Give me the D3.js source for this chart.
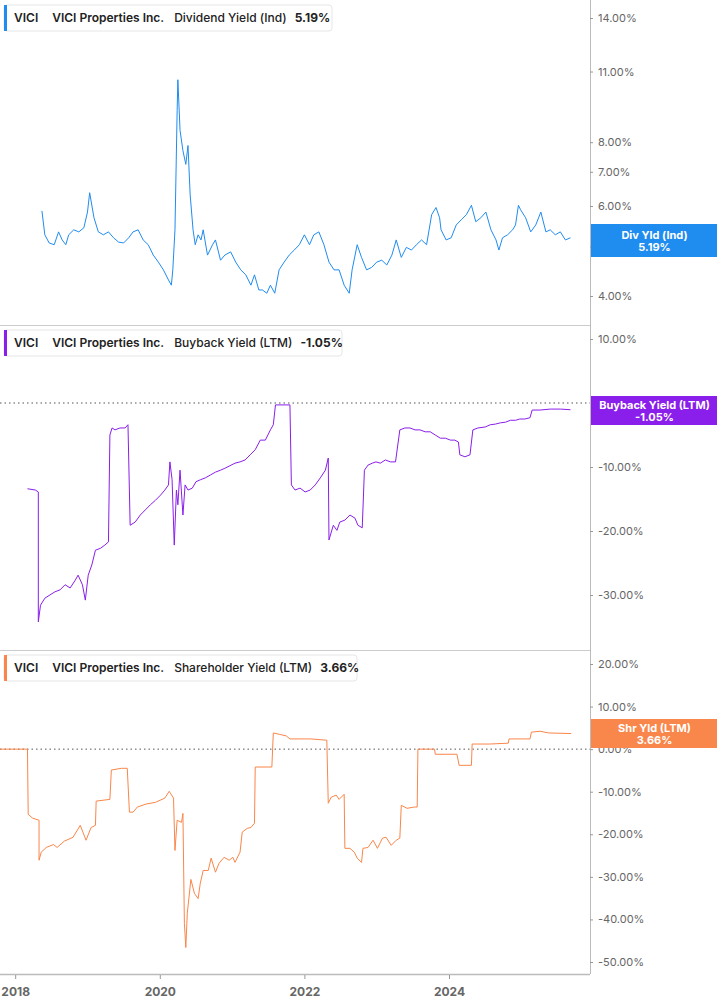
<!DOCTYPE html>
<html><head><meta charset="utf-8">
<script src="https://cdn.jsdelivr.net/npm/d3@7"></script>
<style>body{margin:0;background:#fff;font-family:Inter,"Open Sans",sans-serif}</style>
</head><body><svg id="c" width="717" height="1005"></svg>
<script>
const divDates=[2018.37,2018.41,2018.47,2018.54,2018.60,2018.65,2018.70,2018.74,2018.81,2018.88,2018.95,2019.00,2019.03,2019.09,2019.15,2019.22,2019.29,2019.36,2019.43,2019.50,2019.57,2019.63,2019.70,2019.77,2019.84,2019.91,2019.98,2020.05,2020.12,2020.16,2020.18,2020.21,2020.24,2020.25,2020.28,2020.32,2020.36,2020.39,2020.42,2020.46,2020.49,2020.53,2020.57,2020.60,2020.66,2020.73,2020.77,2020.84,2020.90,2020.98,2021.05,2021.12,2021.19,2021.26,2021.31,2021.37,2021.42,2021.48,2021.53,2021.59,2021.65,2021.72,2021.79,2021.86,2021.93,2022.00,2022.07,2022.13,2022.20,2022.27,2022.34,2022.41,2022.48,2022.55,2022.62,2022.66,2022.73,2022.79,2022.86,2022.93,2023.00,2023.07,2023.14,2023.21,2023.27,2023.34,2023.41,2023.48,2023.55,2023.62,2023.69,2023.76,2023.82,2023.87,2023.89,2023.96,2024.03,2024.10,2024.17,2024.24,2024.31,2024.37,2024.44,2024.51,2024.58,2024.65,2024.69,2024.74,2024.81,2024.88,2024.92,2024.96,2024.99,2025.06,2025.13,2025.20,2025.27,2025.34,2025.40,2025.47,2025.54,2025.61,2025.68];
const divValues=[5.87,5.27,5.08,5.04,5.34,5.15,5.04,5.27,5.39,5.34,5.44,5.84,6.37,5.69,5.34,5.27,5.34,5.20,5.10,5.08,5.20,5.34,5.39,5.15,5.04,4.81,4.66,4.50,4.30,4.20,4.50,5.39,9.22,10.6,8.44,7.70,7.24,7.88,6.31,5.39,5.04,5.27,5.15,5.39,4.81,5.04,5.15,4.70,4.81,4.88,4.66,4.50,4.40,4.20,4.40,4.11,4.11,4.05,4.20,4.05,4.50,4.66,4.81,4.92,5.04,5.27,5.04,5.27,5.34,5.04,4.66,4.50,4.50,4.20,4.05,4.50,5.04,4.76,4.50,4.55,4.66,4.70,4.60,4.81,5.15,4.76,4.98,4.92,5.04,5.15,5.04,5.77,5.96,5.69,5.39,5.15,5.20,5.51,5.64,5.77,6.02,5.59,5.69,5.84,5.39,5.15,4.92,5.20,5.27,5.39,5.51,6.02,5.90,5.69,5.34,5.51,5.84,5.34,5.39,5.27,5.34,5.15,5.20];
const bbDates=[2018.17,2018.28,2018.32,2018.32,2018.35,2018.41,2018.48,2018.55,2018.62,2018.69,2018.76,2018.83,2018.87,2018.93,2018.97,2019.01,2019.06,2019.11,2019.18,2019.24,2019.29,2019.31,2019.34,2019.38,2019.45,2019.52,2019.56,2019.59,2019.66,2019.73,2019.80,2019.87,2019.94,2020.01,2020.07,2020.12,2020.14,2020.17,2020.20,2020.23,2020.25,2020.28,2020.32,2020.35,2020.39,2020.45,2020.50,2020.56,2020.63,2020.70,2020.77,2020.84,2020.90,2020.97,2021.04,2021.11,2021.18,2021.25,2021.32,2021.39,2021.46,2021.53,2021.57,2021.60,2021.80,2021.82,2021.87,2021.94,2022.01,2022.08,2022.15,2022.22,2022.29,2022.33,2022.34,2022.40,2022.45,2022.49,2022.56,2022.63,2022.70,2022.74,2022.80,2022.83,2022.88,2022.94,2022.99,2023.05,2023.12,2023.19,2023.26,2023.32,2023.39,2023.46,2023.53,2023.60,2023.67,2023.74,2023.81,2023.88,2023.95,2024.02,2024.08,2024.13,2024.15,2024.22,2024.29,2024.33,2024.40,2024.50,2024.57,2024.64,2024.71,2024.78,2024.85,2024.92,2024.98,2025.05,2025.12,2025.15,2025.26,2025.40,2025.54,2025.68];
const bbValues=[-13.4,-13.6,-13.9,-34.2,-31.6,-30.5,-30,-29.5,-29.2,-28.4,-28.9,-27.7,-26.9,-28.4,-30.8,-26.9,-25.3,-23,-22.7,-22.2,-21.7,-5,-3.9,-4.2,-3.9,-3.9,-3.4,-19.1,-18.6,-17.5,-16.7,-15.9,-15.2,-14.4,-13.6,-12.8,-9.2,-12,-22.2,-13.6,-15.9,-10.5,-17.5,-12.8,-13.6,-13.3,-12.3,-12,-11.7,-11.25,-10.8,-10.5,-10.2,-9.8,-9.4,-9.2,-8.9,-8.1,-7.3,-5.8,-5.8,-4.2,-3.4,-0.3,-0.3,-12.8,-13.6,-13.3,-13.9,-13.6,-12.8,-11.7,-10.5,-8.6,-21.4,-19.1,-19.9,-18.6,-18.3,-17.5,-18,-19.1,-19.5,-10.5,-9.7,-9.4,-9.2,-9.4,-8.9,-9.2,-9.2,-4.2,-3.9,-3.9,-4.2,-4.2,-4.5,-4.5,-5,-5.5,-5.5,-5.8,-5.8,-6.1,-8.1,-8.4,-8.1,-4.2,-3.9,-3.75,-3.4,-3.3,-3.1,-3,-2.7,-2.7,-2.5,-2.5,-2.3,-1.1,-1.1,-0.95,-0.95,-1.05];
const shDates=[2017.79,2018.17,2018.18,2018.24,2018.33,2018.33,2018.36,2018.43,2018.53,2018.58,2018.68,2018.80,2018.90,2018.98,2019.05,2019.11,2019.12,2019.31,2019.33,2019.47,2019.55,2019.58,2019.63,2019.69,2019.81,2019.94,2020.07,2020.13,2020.19,2020.21,2020.24,2020.30,2020.32,2020.34,2020.36,2020.38,2020.43,2020.48,2020.53,2020.56,2020.60,2020.67,2020.71,2020.77,2020.82,2020.89,2020.96,2021.01,2021.04,2021.11,2021.14,2021.21,2021.26,2021.31,2021.32,2021.55,2021.57,2021.65,2021.75,2021.80,2022.09,2022.31,2022.33,2022.37,2022.44,2022.48,2022.55,2022.56,2022.63,2022.69,2022.73,2022.79,2022.81,2022.88,2022.95,2023.01,2023.08,2023.13,2023.20,2023.27,2023.32,2023.34,2023.42,2023.52,2023.56,2023.57,2023.80,2023.81,2024.11,2024.14,2024.31,2024.32,2024.56,2024.82,2024.83,2025.12,2025.14,2025.26,2025.38,2025.69];
const shValues=[0,0,-15.3,-16.2,-16.7,-26.1,-24.2,-23.1,-22.4,-23.1,-21.6,-20.7,-17.9,-21.4,-18.4,-17.9,-12.2,-11.8,-4.9,-4.5,-4.5,-14.8,-14.8,-13.6,-12.9,-12.5,-11.5,-9.9,-11.5,-23.8,-16.7,-17.2,-15.1,-40.9,-46.6,-38.6,-30.6,-33.9,-35.1,-31.5,-28.5,-28.5,-25.6,-28.9,-26.8,-25.4,-26.1,-25.4,-26.6,-24.2,-19.5,-18.6,-18.4,-17.4,-4.2,-4.2,3.8,3.5,3.1,2.4,2.4,2.1,-12.7,-11.3,-10.8,-11.8,-10.6,-23.3,-23.3,-24.2,-25.6,-26.6,-23.3,-23.1,-21.4,-23.3,-20.9,-20.7,-22.6,-21.4,-20.9,-13.2,-13.9,-13.6,-13.6,0,0,-1.2,-1.2,-3.8,-3.8,1.2,1.2,1.4,2.4,2.4,4.0,4.2,3.8,3.66];
const divTicks=[4,5,6,7,8,11,14];
const bbTicks=[10,-10,-20,-30];
const shTicks=[20,10,0,-10,-20,-30,-40,-50];
const yearTicks=[2018,2020,2022,2024];

const svg=d3.select("#c");
const W=590;
const x=d3.scaleLinear().domain([2017.79,2025.95]).range([0,W]);
const gray="#666";

const panels=[
 {dates:divDates,vals:divValues,ticks:divTicks,color:"#1f8cf0",
  y:d3.scaleLog().domain([4,14]).range([296,18]),
  title:"Dividend Yield (Ind)",last:"5.19%",badge:["Div Yld (Ind)","5.19%"],by:224,bh:33,top:5,lw:328,zero:false},
 {dates:bbDates,vals:bbValues,ticks:bbTicks,color:"#8a1eea",
  y:d3.scaleLinear().domain([-30,10]).range([595,339]),
  title:"Buyback Yield (LTM)",last:"-1.05%",badge:["Buyback Yield (LTM)","-1.05%"],by:396,bh:29,top:330,lw:338,zero:true},
 {dates:shDates,vals:shValues,ticks:shTicks,color:"#f9864a",
  y:d3.scaleLinear().domain([-50,20]).range([962,664]),
  title:"Shareholder Yield (LTM)",last:"3.66%",badge:["Shr Yld (LTM)","3.66%"],by:719,bh:29,top:655,lw:353,zero:true}
];

// separators & axes
svg.append("line").attr("x1",W+0.5).attr("x2",W+0.5).attr("y1",0).attr("y2",974).attr("stroke","#bbb");
[325,650].forEach(yy=>svg.append("line").attr("x1",0).attr("x2",W).attr("y1",yy+0.5).attr("y2",yy+0.5).attr("stroke","#ccc"));
svg.append("line").attr("x1",0).attr("x2",W).attr("y1",974.5).attr("y2",974.5).attr("stroke","#bbb").attr("stroke-width",1.5);

panels.forEach(p=>{
  const g=svg.append("g");
  if(p.zero) g.append("line").attr("x1",0).attr("x2",W).attr("y1",p.y(0)).attr("y2",p.y(0))
     .attr("stroke","#555").attr("stroke-dasharray","1.5,3");
  const ax=d3.axisRight(p.y).tickValues(p.ticks).tickSize(3).tickPadding(5).tickFormat(d=>d.toFixed(2)+"%");
  const a=g.append("g").attr("transform",`translate(${W},0)`).call(ax);
  a.select(".domain").remove();
  a.selectAll("line").attr("stroke","#999");
  a.selectAll("text").attr("fill",gray).style("font-size","11px").style("font-family","Inter,sans-serif");
  const line=d3.line().x((d,i)=>x(p.dates[i])).y(d=>p.y(d));
  g.append("path").datum(p.vals).attr("d",line).attr("fill","none").attr("stroke",p.color).attr("stroke-width",1);
  // legend
  const lg=g.append("g").attr("transform",`translate(4,${p.top})`);
  lg.append("rect").attr("width",p.lw).attr("height",26).attr("rx",3).attr("fill","#fff").attr("stroke","#e6e6e6");
  lg.append("rect").attr("width",3).attr("height",26).attr("fill",p.color);
  const t=lg.append("text").attr("x",10).attr("y",17).style("font-size","12px").style("font-weight","600").attr("fill","#222");
  t.append("tspan").text("VICI");
  t.append("tspan").attr("dx",14).text("VICI Properties Inc.");
  t.append("tspan").attr("dx",10).style("font-weight","500").text(p.title);
  t.append("tspan").attr("dx",8).style("font-weight","700").text(p.last);
  // badge
  const b=g.append("g").attr("transform",`translate(${W+1},${p.by})`);
  b.append("rect").attr("width",717-W).attr("height",p.bh).attr("fill",p.color);
  b.append("text").attr("x",(717-W)/2).attr("y",p.bh/2-2).attr("text-anchor","middle").attr("fill","#fff")
   .style("font-size","11px").style("font-weight","700").text(p.badge[0]);
  b.append("text").attr("x",(717-W)/2).attr("y",p.bh/2+10).attr("text-anchor","middle").attr("fill","#fff")
   .style("font-size","11px").style("font-weight","700").text(p.badge[1]);
});

const xa=svg.append("g").attr("transform","translate(0,975)").call(d3.axisBottom(x).tickValues(yearTicks).tickSize(4).tickPadding(8).tickFormat(d3.format("d")));
xa.select(".domain").remove();
xa.selectAll("line").attr("stroke","#999");
xa.selectAll("text").attr("fill",gray).style("font-size","12px").style("font-weight","700").style("font-family","Inter,sans-serif");
</script></body></html>
